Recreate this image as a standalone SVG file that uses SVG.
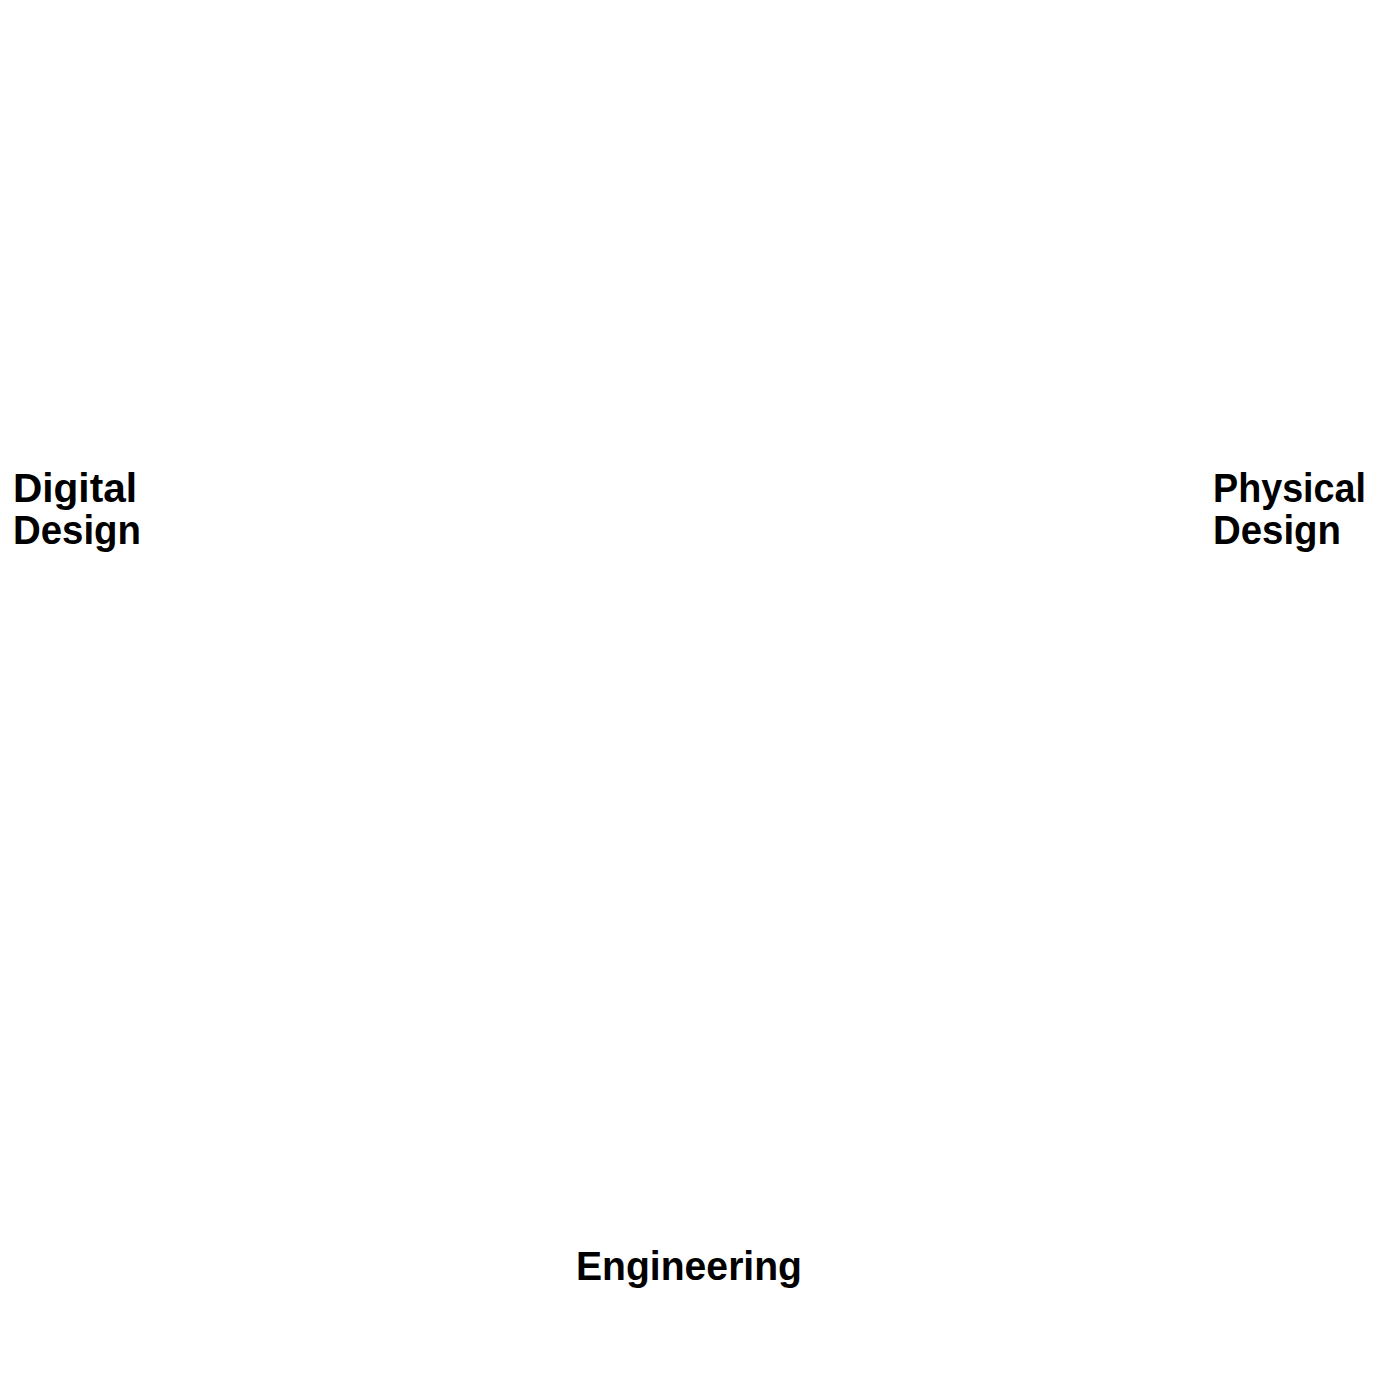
<svg xmlns="http://www.w3.org/2000/svg" width="1379" height="1393" viewBox="0 0 1379 1393">
<style>
.lbl{font-family:"Liberation Sans",Arial,sans-serif;font-weight:bold;font-size:40px;fill:#000}
</style>
<rect width="1379" height="1393" fill="#fff"/>
<g id="connectors"></g>
<g id="digital-design">
<text class="lbl" x="13" y="502" textLength="124" lengthAdjust="spacingAndGlyphs">Digital</text>
<text class="lbl" x="13" y="544" textLength="128" lengthAdjust="spacingAndGlyphs">Design</text>
</g>
<g id="physical-design">
<text class="lbl" x="1213" y="502" textLength="153" lengthAdjust="spacingAndGlyphs">Physical</text>
<text class="lbl" x="1213" y="544" textLength="128" lengthAdjust="spacingAndGlyphs">Design</text>
</g>
<g id="engineering">
<text class="lbl" x="576" y="1280" textLength="226" lengthAdjust="spacingAndGlyphs">Engineering</text>
</g>
</svg>
